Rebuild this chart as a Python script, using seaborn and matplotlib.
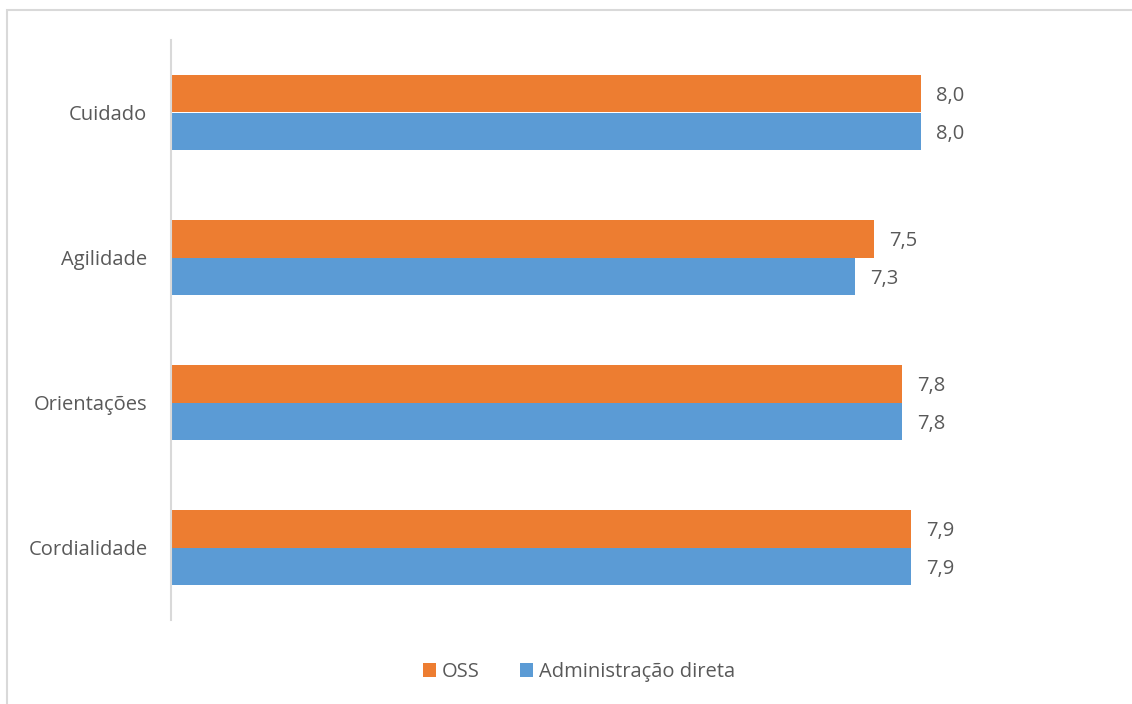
import matplotlib
matplotlib.use("Agg")
import matplotlib.pyplot as plt
from matplotlib.patches import Rectangle, Patch
import seaborn as sns
import pandas as pd

categories = ["Cuidado", "Agilidade", "Orientações", "Cordialidade"]
series_names = ["OSS", "Administração direta"]
oss_values = [8.0, 7.5, 7.8, 7.9]
admin_values = [8.0, 7.3, 7.8, 7.9]
colors = ["#ED7D31", "#5B9BD5"]

df = pd.DataFrame({
    "categoria": categories * 2,
    "grupo": [series_names[0]] * len(categories) + [series_names[1]] * len(categories),
    "valor": oss_values + admin_values,
})

sns.set_theme(style="white")
plt.rcParams["font.family"] = ["Open Sans", "DejaVu Sans"]
text_color = "#595959"
fs = 14.5

fig = plt.figure(figsize=(11.32, 7.04), dpi=100)
ax = fig.add_axes([171 / 1132, 1 - 620 / 704, (1108 - 171) / 1132, 580 / 704])

sns.barplot(data=df, y="categoria", x="valor", hue="grupo", orient="h",
            palette=colors, width=0.52, saturation=1, ax=ax, legend=False,
            order=categories, hue_order=series_names, linewidth=0)

for container in ax.containers:
    texts = ax.bar_label(container,
                         labels=[f"{v:.1f}".replace(".", ",") for v in container.datavalues],
                         padding=11, fontsize=fs, color=text_color)
    for t in texts:
        t.xyann = (t.xyann[0], -2)

ax.set_xlim(0, 10)
ax.set_ylim(3.5, -0.5)
ax.set_xlabel("")
ax.set_ylabel("")
ax.set_xticks([])
ax.tick_params(axis="y", length=0, pad=17, labelsize=fs, labelcolor=text_color)
for side in ["top", "right", "bottom"]:
    ax.spines[side].set_visible(False)
ax.spines["left"].set_color("#D9D9D9")
ax.spines["left"].set_linewidth(1.5)

handles = [Patch(facecolor=c, edgecolor="none") for c in colors]
fig.legend(handles, series_names, loc="center", bbox_to_anchor=(579 / 1132, 1 - 672 / 704),
           ncol=2, frameon=False, fontsize=fs, labelcolor=text_color,
           handlelength=0.65, handleheight=0.65, handletextpad=0.3, columnspacing=2.0)

# outer chart frame
fig.patches.append(Rectangle((7 / 1132, -0.05), 1.2, 1 - 10 / 704 + 0.05,
                             transform=fig.transFigure, fill=False,
                             edgecolor="#D9D9D9", linewidth=1.5))

fig.savefig("out.png", dpi=100)
